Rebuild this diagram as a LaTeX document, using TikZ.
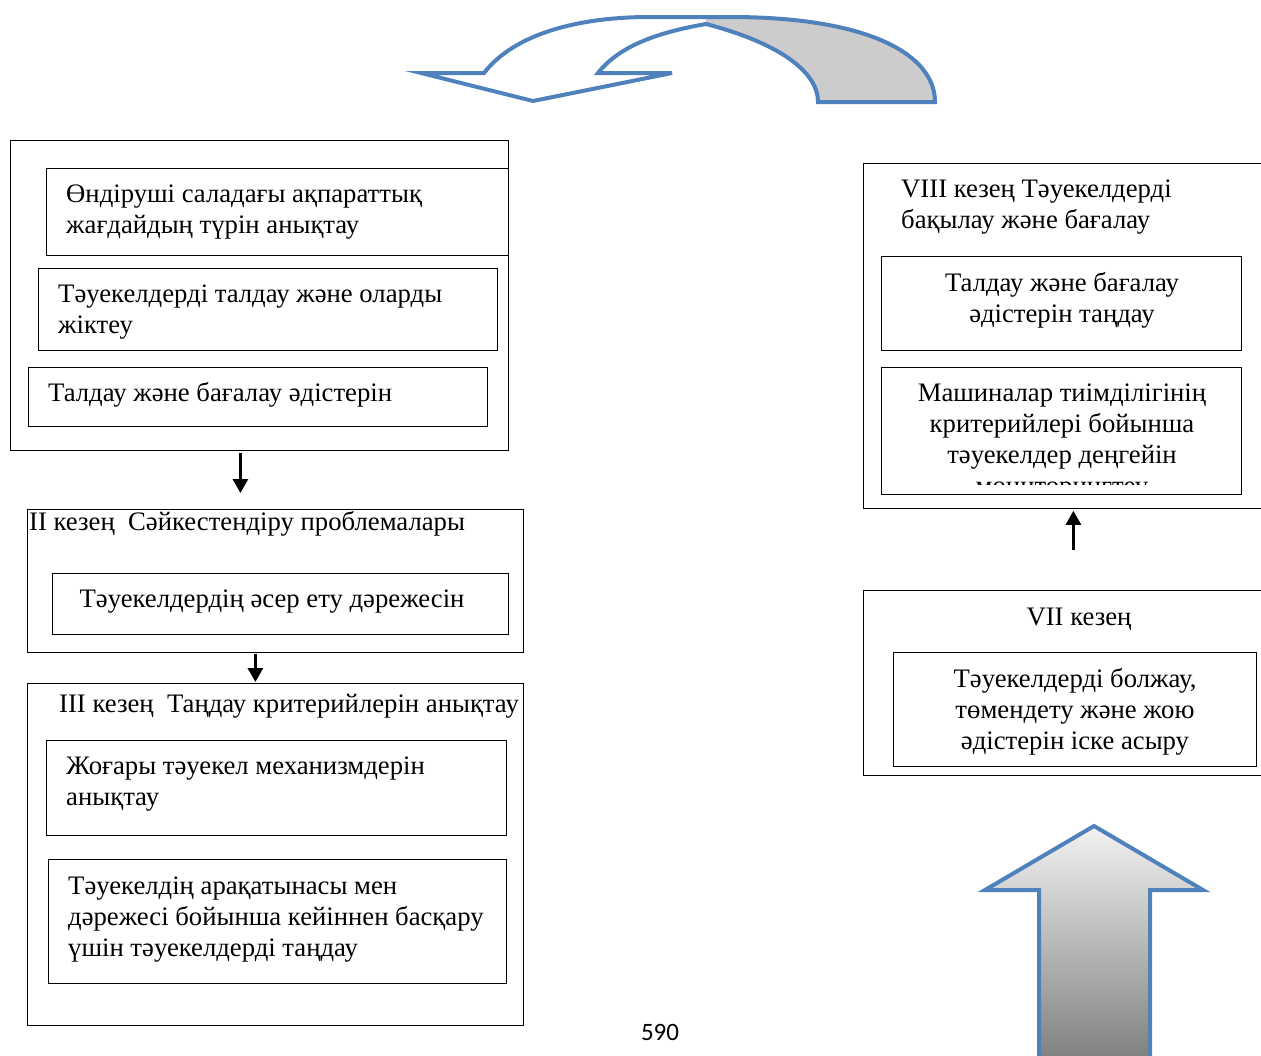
\documentclass[tikz,border=0pt]{standalone}
\usepackage{fontspec}
\setmainfont{Liberation Serif}
\newfontfamily\pagefont{Carlito}
\usetikzlibrary{arrows.meta,positioning}
\definecolor{arrowblue}{RGB}{79,129,189}
\tikzset{
  stagebox/.style={draw, line width=0.8pt, inner sep=0pt, anchor=north west},
  steptext/.style={inner sep=0pt, align=left, anchor=base west, font=\fontsize{26.7}{31}\selectfont},
  midtext/.style={inner sep=0pt, align=center, anchor=base, font=\fontsize{26.7}{31}\selectfont},
  flow/.style={line width=3pt, -{Triangle[width=15pt,length=14pt]}},
  bigarrow/.style={draw=arrowblue, line width=4pt, line join=miter}
}
\begin{document}
\begin{tikzpicture}[x=1pt,y=-1pt]
  \useasboundingbox (0,0) rectangle (1261,1055);
  \clip (0,0) rectangle (1261,1055);
  % curved arrow on top
  \fill[white] (421,73) -- (484,73) .. controls (515,33) and (580,17) .. (650,17) -- (730,17)
    .. controls (870,17) and (935,55) .. (935,102) -- (818,102)
    .. controls (818,70) and (775,42) .. (706,24)
    .. controls (660,32) and (620,45) .. (598,73) -- (672,73) -- (533,101) -- cycle;
  \fill[black!20] (706,19) -- (730,17) .. controls (870,17) and (935,55) .. (935,102) -- (818,102)
    .. controls (818,70) and (775,42) .. (706,24) -- cycle;
  \draw[bigarrow] (421,73) -- (484,73) .. controls (515,33) and (580,17) .. (650,17) -- (730,17)
    .. controls (870,17) and (935,55) .. (935,102) -- (818,102)
    .. controls (818,70) and (775,42) .. (706,24)
    .. controls (660,32) and (620,45) .. (598,73) -- (672,73) -- (533,101) -- cycle;
  % stage I
  \node[stagebox, minimum width=498pt, minimum height=310pt] (s1) at (10,140) {};
  \node[stagebox, minimum width=462pt, minimum height=87pt] (b11) at (46,168) {};
  \node[stagebox, minimum width=459pt, minimum height=82pt] (b12) at (38,268) {};
  \node[stagebox, minimum width=459pt, minimum height=59pt] (b13) at (28,367) {};
  \node[steptext] (t11) at (66,233) {Өндіруші саладағы ақпараттық\\жағдайдың түрін анықтау};
  \node[steptext] (t12) at (58,333) {Тәуекелдерді талдау және оларды\\жіктеу};
  \node[steptext] (t13) at (48,401) {Талдау және бағалау әдістерін};
  % stage II
  \node[stagebox, minimum width=496pt, minimum height=143pt] (s2) at (27,509) {};
  \node[stagebox, minimum width=456pt, minimum height=61pt] (b21) at (52,573) {};
  \node[steptext] (t2) at (29,530) {II кезең\ \ Сәйкестендіру проблемалары};
  \node[midtext] (t21) at (272,607) {Тәуекелдердің әсер ету дәрежесін};
  % stage III
  \node[stagebox, minimum width=496pt, minimum height=342pt] (s3) at (27,683) {};
  \node[stagebox, minimum width=460pt, minimum height=95pt] (b31) at (46,740) {};
  \node[stagebox, minimum width=458pt, minimum height=124pt] (b32) at (48,859) {};
  \node[steptext] (t3) at (59,712) {III кезең\ \ Таңдау критерийлерін анықтау};
  \node[steptext] (t31) at (66,805) {Жоғары тәуекел механизмдерін\\анықтау};
  \node[steptext] (t32) at (68,956) {Тәуекелдің арақатынасы мен\\дәрежесі бойынша кейіннен басқару\\үшін тәуекелдерді таңдау};
  % stage VIII
  \node[stagebox, minimum width=410pt, minimum height=345pt] (s8) at (863,163) {};
  \node[stagebox, minimum width=360pt, minimum height=94pt] (b81) at (881,256) {};
  \node[stagebox, minimum width=360pt, minimum height=127pt] (b82) at (881,367) {};
  \node[steptext] (t8) at (901,228) {VIII кезең Тәуекелдерді\\бақылау және бағалау};
  \node[midtext] (t81) at (1062,322) {Талдау және бағалау\\әдістерін таңдау};
  \begin{scope}
    \clip (b82.north west) rectangle ([yshift=10pt]b82.south east);
    \node[midtext] (t82) at (1062,494) {Машиналар тиімділігінің\\критерийлері бойынша\\тәуекелдер деңгейін\\мониторингтеу};
  \end{scope}
  % stage VII
  \node[stagebox, minimum width=410pt, minimum height=185pt] (s7) at (863,590) {};
  \node[stagebox, minimum width=363pt, minimum height=114pt] (b71) at (893,652) {};
  \node[midtext] (t7) at (1079,625) {VII кезең};
  \node[midtext] (t71) at (1075,749) {Тәуекелдерді болжау,\\төмендету және жою\\әдістерін іске асыру};
  % connectors
  \draw[flow, shorten >=16pt, shorten <=2pt] ([xshift=-19pt]s1.south) -- ([xshift=-19pt]s1.south |- s2.north);
  \draw[flow, shorten <=1pt, shorten >=1pt] ([xshift=-20pt]s2.south) -- ([xshift=-20pt]s2.south |- s3.north);
  \draw[flow, shorten <=40pt, shorten >=2pt] ([xshift=5pt]s7.north) -- ([xshift=5pt]s7.north |- s8.south);
  % big arrow
  \draw[bigarrow, top color=black!5, bottom color=black!52] (1094,826) -- (1203,890) -- (1150,890) -- (1150,1070)
    -- (1039,1070) -- (1039,890) -- (985,890) -- cycle;
  \node[font=\pagefont\fontsize{25}{29}\selectfont] (pnum) at (660,1032) {590};
\end{tikzpicture}
\end{document}
